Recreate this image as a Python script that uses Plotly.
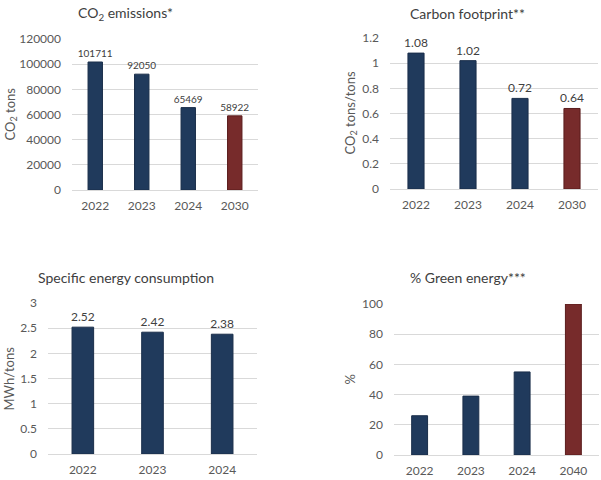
import plotly.graph_objects as go

NAVY = "#203A5C"
NAVY_LINE = "#1A2E4A"
RED = "#772B2B"
RED_LINE = "#5A1C1C"
TXT = "#595959"
FONT = "Lato"

# Data
co2_years = ["2022", "2023", "2024", "2030"]
co2_values = [101711, 92050, 65469, 58922]

cf_years = ["2022", "2023", "2024", "2030"]
cf_values = [1.08, 1.02, 0.72, 0.64]

sec_years = ["2022", "2023", "2024"]
sec_values = [2.52, 2.42, 2.38]

green_years = ["2022", "2023", "2024", "2040"]
green_values = [26, 39, 55, 100]

W, H = 601, 480

def dx(a, b):
    return [a / W, b / W]

def dy(top, bottom):
    return [1 - bottom / H, 1 - top / H]

panels = [
    dict(x=co2_years, y=co2_values, target_last=True, labels=True, fmt="%{y}", lsize=10,
         xd=dx(72, 258), yd=dy(39, 190), rng=[0, 120000], dt=20000,
         title="CO<sub>2</sub> emissions*", tx=125, ty=13,
         ytitle="CO<sub>2</sub> tons", ytx=10, tickfmt="d"),
    dict(x=cf_years, y=cf_values, target_last=True, labels=True, fmt="%{y:.2f}", lsize=12,
         xd=dx(390, 598), yd=dy(38, 189), rng=[0, 1.2], dt=0.2,
         title="Carbon footprint**", tx=467, ty=13,
         ytitle="CO<sub>2</sub> tons/tons", ytx=350, tickfmt=""),
    dict(x=sec_years, y=sec_values, target_last=False, labels=True, fmt="%{y:.2f}", lsize=12,
         xd=dx(48, 257), yd=dy(303, 454), rng=[0, 3], dt=0.5,
         title="Specific energy consumption", tx=126, ty=277,
         ytitle="MWh/tons", ytx=8, tickfmt=""),
    dict(x=green_years, y=green_values, target_last=True, labels=False, fmt="", lsize=12,
         xd=dx(394, 599), yd=dy(304, 455), rng=[0, 100], dt=20,
         title="% Green energy***", tx=468, ty=277,
         ytitle="%", ytx=350, tickfmt=""),
]

fig = go.Figure()
annotations = []
for i, p in enumerate(panels, start=1):
    n = len(p["x"])
    colors = [NAVY] * n
    lines = [NAVY_LINE] * n
    if p["target_last"]:
        colors[-1] = RED
        lines[-1] = RED_LINE
    xa = "x" if i == 1 else f"x{i}"
    ya = "y" if i == 1 else f"y{i}"
    fig.add_trace(go.Bar(
        x=p["x"], y=p["y"], xaxis=xa, yaxis=ya,
        marker=dict(color=colors, line=dict(color=lines, width=1)),
        texttemplate=p["fmt"] if p["labels"] else None,
        textposition="outside" if p["labels"] else "none",
        constraintext="none",
        textfont=dict(family=FONT, size=p["lsize"], color="#404040"),
        cliponaxis=False, showlegend=False, width=0.31, hoverinfo="skip",
    ))
    xkey = "xaxis" if i == 1 else f"xaxis{i}"
    ykey = "yaxis" if i == 1 else f"yaxis{i}"
    fig.layout[xkey] = dict(domain=p["xd"], anchor=ya, type="category",
                            showgrid=False, showline=False, zeroline=False,
                            automargin=False,
                            tickfont=dict(family=FONT, size=12, color=TXT),
                            ticklabelstandoff=7, fixedrange=True)
    fig.layout[ykey] = dict(domain=p["yd"], anchor=xa, range=p["rng"], dtick=p["dt"],
                            tick0=0, showgrid=True, gridcolor="#D9D9D9", gridwidth=1,
                            zeroline=True, zerolinecolor="#D9D9D9", zerolinewidth=1,
                            showline=False, tickformat=p["tickfmt"], automargin=False,
                            tickfont=dict(family=FONT, size=12, color=TXT),
                            ticklabelstandoff=10, fixedrange=True)
    annotations.append(dict(text=p["title"], x=p["tx"] / W, y=1 - p["ty"] / H,
                            xref="paper", yref="paper", showarrow=False,
                            xanchor="center", yanchor="middle",
                            font=dict(family=FONT, size=14, color="#404040")))
    yc = (p["yd"][0] + p["yd"][1]) / 2
    annotations.append(dict(text=p["ytitle"], x=p["ytx"] / W, y=yc,
                            xref="paper", yref="paper", showarrow=False, textangle=-90,
                            xanchor="center", yanchor="middle",
                            font=dict(family=FONT, size=13, color=TXT)))

fig.update_layout(width=W, height=H, margin=dict(l=0, r=0, t=0, b=0),
                  paper_bgcolor="white", plot_bgcolor="white",
                  annotations=annotations, bargap=0.69,
                  font=dict(family=FONT, color=TXT))

fig.write_html("out.html", config={"displayModeBar": False},
               post_script="document.body.style.margin='0';document.body.style.overflow='hidden';")
